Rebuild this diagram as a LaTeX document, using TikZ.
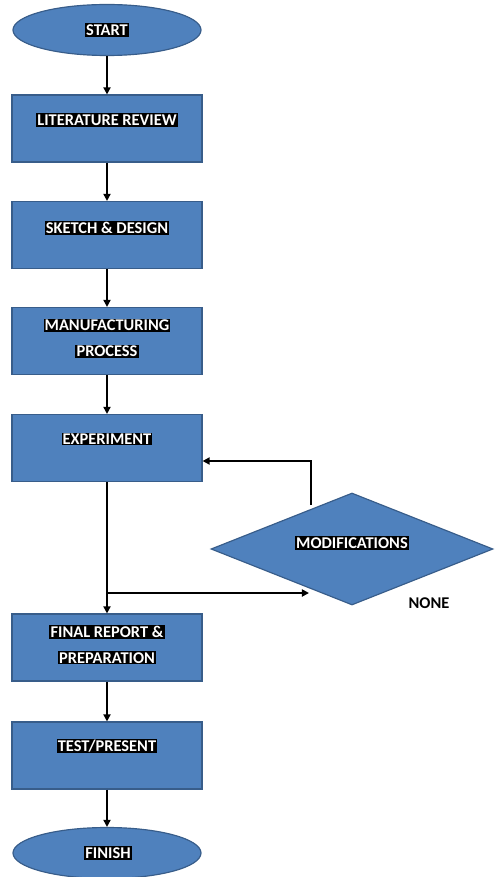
\documentclass[tikz,border=0pt]{standalone}
\usepackage{fontspec}
\setmainfont{Carlito}
\usepackage{tikz}
\usetikzlibrary{shapes.geometric}
\usetikzlibrary{calc}
\usetikzlibrary{positioning, arrows.meta, shapes}
\usepackage{xcolor}
\definecolor{boxblue}{HTML}{4F81BD}
\definecolor{boxedge}{HTML}{385D8A}
\newcommand{\hl}[1]{{\setlength{\fboxsep}{1pt}\colorbox{black}{#1}}}

\tikzset{
  box/.style={draw=boxedge, fill=boxblue, line width=1pt, rectangle, minimum width=5.7cm, minimum height=2.01cm, inner sep=0pt},
  term/.style={draw=boxedge, fill=boxblue, line width=1pt, ellipse, minimum width=5.64cm, minimum height=1.53cm, inner sep=0pt},
  decision/.style={draw=boxedge, fill=boxblue, line width=1pt, diamond, minimum width=8.46cm, minimum height=3.36cm, inner sep=0pt},
  txt/.style={text=white, font=\bfseries\fontsize{14}{16}\selectfont, align=center, inner sep=0pt},
  arr/.style={-{Triangle[length=6pt, width=6pt]}, line width=1.7pt}
}

\begin{document}
\begin{tikzpicture}[x=0.03cm, y=-0.03cm]
    \useasboundingbox (0,0) rectangle (495,877);

    % Main column
    \node[term] (start) at (107,30) {};
    \node[box] (lit) at (107,128.5) {};
    \node[box] (sketch) at (107,235) {};
    \node[box] (manuf) at (107,341) {};
    \node[box] (exper) at (107,448) {};
    \node[box] (final) at (107,647.5) {};
    \node[box] (test) at (107,755.5) {};
    \node[term] (finish) at (107,853) {};

    % Decision
    \node[decision] (mod) at (352,549) {};

    % Labels
    \node[txt] (start-t) at (107,30) {\hl{START}};
    \node[txt] (lit-t) at (107,120) {\hl{LITERATURE REVIEW}};
    \node[txt] (sketch-t) at (107,228) {\hl{SKETCH \& DESIGN}};
    \node[txt] (manuf-t) at (107,338.5) {\hl{MANUFACTURING}\\[6pt]\hl{PROCESS}};
    \node[txt] (exper-t) at (107,439) {\hl{EXPERIMENT}};
    \node[txt] (mod-t) at (352,543) {\hl{MODIFICATIONS}};
    \node[font=\bfseries\fontsize{14}{16}\selectfont, inner sep=0pt] (none-t) at (429,603) {NONE};
    \node[txt] (final-t) at (107,644.5) {\hl{FINAL REPORT \&}\\[6pt]\hl{PREPARATION}};
    \node[txt] (test-t) at (107,746) {\hl{TEST/PRESENT}};
    \node[txt] (finish-t) at (108,853) {\hl{FINISH}};

    % Turning points
    \coordinate (split) at (107,593);
    \coordinate (none-in) at (309,593);
    \coordinate (mod-out) at (311,505);
    \coordinate (mod-back) at (311,461);

    % Connections
    \draw[arr] (start) -- (lit);
    \draw[arr] (lit) -- (sketch);
    \draw[arr] (sketch) -- (manuf);
    \draw[arr] (manuf) -- (exper);
    \draw[arr] (exper) -- (final);
    \draw[arr] (final) -- (test);
    \draw[arr] (test) -- (finish);

    % Loop with the decision
    \draw[arr] (split) -- (none-in);
    \draw[arr] (mod-out) -- (mod-back) -- (exper.east |- mod-back);
\end{tikzpicture}
\end{document}
